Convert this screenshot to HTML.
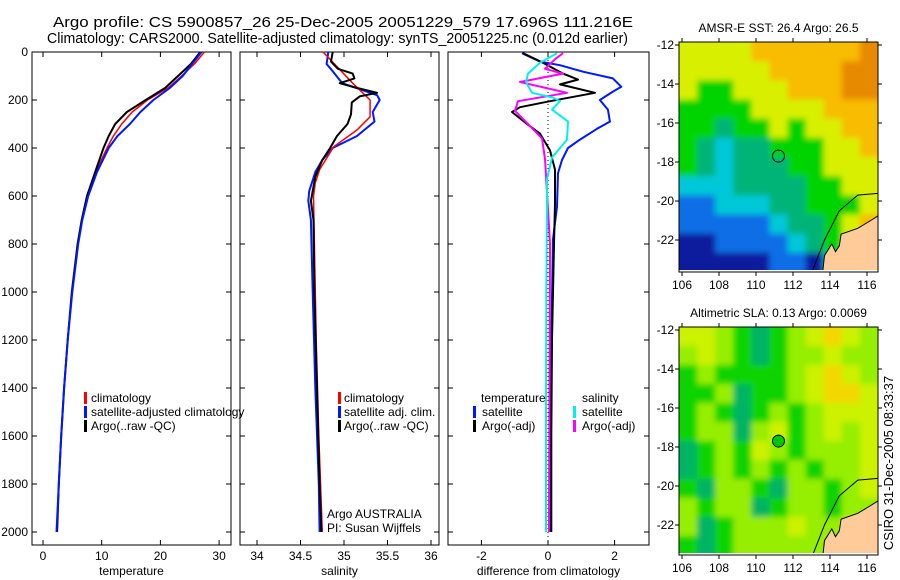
<!DOCTYPE html>
<html><head><meta charset="utf-8"><style>
html,body{margin:0;padding:0;background:#fff;}
svg{display:block;font-family:"Liberation Sans",sans-serif;}
text{fill:#000;}
</style></head><body>
<svg id="fig" width="900" height="580" viewBox="0 0 900 580" xmlns="http://www.w3.org/2000/svg">
<defs>
<filter id="blur" filterUnits="userSpaceOnUse" x="650" y="0" width="250" height="580"><feGaussianBlur stdDeviation="3"/></filter>
<clipPath id="clip1"><rect x="679" y="42" width="199" height="230"/></clipPath>
<clipPath id="clip2"><rect x="679" y="327" width="199" height="228"/></clipPath>
</defs>
<text x="53" y="27" font-size="15" textLength="580" lengthAdjust="spacingAndGlyphs">Argo profile: CS 5900857_26 25-Dec-2005 20051229_579 17.696S 111.216E</text>
<text x="47" y="43" font-size="15" textLength="581" lengthAdjust="spacingAndGlyphs">Climatology: CARS2000. Satellite-adjusted climatology: synTS_20051225.nc (0.012d earlier)</text>
<text transform="translate(893,463) rotate(-90)" font-size="13" text-anchor="middle">CSIRO 31-Dec-2005 08:33:37</text>
<g id="layer"></g>
</svg>
<script>
// ---------- data ----------
const depthTicks = [0,200,400,600,800,1000,1200,1400,1600,1800,2000];
const tempTicks = [0,10,20,30];
const salTicks = [34,34.5,35,35.5,36];
const diffTicks = [-2,0,2];
const lonTicks = [106,108,110,112,114,116];
const latTicks = [-12,-14,-16,-18,-20,-22];

const tDepth = [0,50,100,150,200,250,300,350,400,500,600,700,800,1000,1200,1400,1600,1800,2000];
const tempClim = [27.5,25.8,23.6,21.3,17.8,15.2,13.4,12.0,10.9,9.0,7.6,6.6,5.9,4.9,4.2,3.6,3.1,2.7,2.4];
const tempSat  = [27.0,25.4,23.8,21.6,18.8,16.6,14.8,12.7,11.2,9.2,7.7,6.7,6.0,5.0,4.2,3.6,3.1,2.7,2.3];
const tempArgo = [26.8,25.2,23.0,20.8,17.5,14.3,12.3,11.2,10.3,8.9,7.5,6.6,5.9,4.9,4.2,3.6,3.1,2.7,2.4];

const sClimDepth = [0,130,200,270,325,395,490,545,600,800,1200,1600,2000];
const salClim    = [34.76,35.1,35.3,35.3,35.15,34.88,34.72,34.67,34.65,34.66,34.68,34.71,34.75];
const sSatDepth  = [0,50,80,130,180,200,250,290,350,400,450,500,580,620,700,1000,1400,1800,2000];
const salSat     = [34.82,34.8,34.87,34.98,35.38,35.41,35.33,35.35,35.15,34.87,34.75,34.67,34.6,34.59,34.62,34.64,34.67,34.71,34.72];
const sArgoDepth = [0,40,70,90,110,130,145,170,185,210,260,300,350,400,450,520,620,700,1000,1400,1800,2000];
const salArgo    = [34.87,34.85,34.93,35.1,35.12,34.95,35.1,35.38,35.18,35.09,35.08,35.04,34.92,34.84,34.75,34.67,34.62,34.65,34.66,34.69,34.72,34.74];

const dTSatDepth = [5,40,55,82,110,145,165,200,240,290,320,365,400,450,505,645,780,1200,1600,2000];
const diffTSat   = [-0.78,-0.24,0.36,1.05,1.95,2.2,1.95,1.56,1.8,1.86,1.47,0.96,0.6,0.42,0.3,0.27,0.15,0.1,0.07,0.05];
const dTArgoDepth = [5,45,90,115,135,170,205,230,250,300,340,410,490,630,800,1200,1600,2000];
const diffTArgo   = [-0.75,-0.15,0.45,0.9,0.36,1.41,0.06,-0.84,-1.08,-0.63,-0.24,0.06,0.21,0.21,0.18,0.12,0.1,0.1];
const dSSatDepth = [5,45,90,125,170,190,205,240,290,365,440,530,640,1000,1500,2000];
const diffSSat   = [0.27,-0.24,-0.6,-0.66,-0.48,0.15,0.36,0.12,0.6,0.57,0.12,-0.03,-0.03,-0.05,-0.06,-0.06];
const dSArgoDepth = [5,30,70,90,125,170,205,245,300,360,445,585,800,1200,1600,2000];
const diffSArgo   = [0.45,0.21,-0.09,0.45,-0.84,0.57,-0.9,-0.99,-0.6,-0.18,-0.09,-0.03,0.06,0.05,0.04,0.03];

// map colour grids (rows top->bottom, cols west->east)
const sstGrid = [
"YYYYOOOOOOD",
"YYYYYOOOODD",
"YGGYYYOOODD",
"GGGGYYYYOOO",
"GGTGGYGYYOO",
"GTCTTGGGYYO",
"GTCTTTGGYYY",
"CCCTTTTGGYY",
"BBCCCTTGGGY",
"BBBBBCTTGYO",
"NNBBBBCTGYO",
"NNNNNBBNCGO"];
const slaGrid = [
"YYLGTGLYOYL",
"LYLGTGLLYLL",
"GLGGGGLYOYL",
"GGLTGGLYOOY",
"GLGTGLGLYYY",
"GLLTLYGLYLY",
"TGLGYLGLLLY",
"TGLGLGLGLLY",
"GTLLGTLLGLY",
"LGLLTGLLGLL",
"LTGLLLYLLYY",
"GTGLLLLLLYY"];
const sstColors = {Y:"#d8f000",O:"#f8bc00",D:"#e88a00",G:"#00d400",T:"#00b478",C:"#00c8d8",B:"#0a6ee6",N:"#0a1e9c"};
const slaColors = {Y:"#ccf200",L:"#96ee00",G:"#10d400",T:"#00b464",O:"#f2d800"};
const coastLon = [113.6,113.7,114.1,114.3,114.5,114.6,115.5,116.2,116.7,116.7];
const coastLat = [-23.7,-22.8,-22.2,-22.6,-22.3,-21.7,-21.4,-21.0,-20.7,-23.7];
const shelfLon = [113.0,113.7,114.5,115.5,116.7];
const shelfLat = [-23.7,-22.0,-20.5,-19.7,-19.6];
const floatLon = 111.216, floatLat = -17.696;

// ---------- drawing ----------
const NS = "http://www.w3.org/2000/svg";
const layer = document.getElementById('layer');
function mk(tag, attrs, parent){
  const e = document.createElementNS(NS, tag);
  for (const k in attrs) e.setAttribute(k, attrs[k]);
  (parent||layer).appendChild(e);
  return e;
}
const P = {top:52, bottom:545};
const yScale = d => 52 + 0.24*d;

function panel(name, x0, x1, xs, ticks, fmt, label, showY){
  const g = mk('g', {});
  
  
  const fr = mk('rect', {x:x0, y:P.top, width:x1-x0, height:P.bottom-P.top, fill:'none', stroke:'#000', 'stroke-width':1}, g);
  
  
  depthTicks.forEach(d=>{
    const y = yScale(d);
    mk('line',{x1:x0,x2:x0+5,y1:y,y2:y,stroke:'#000'},g);
    mk('line',{x1:x1-5,x2:x1,y1:y,y2:y,stroke:'#000'},g);
    if (showY){
      const t = mk('text',{x:x0-4,y:y+4,'font-size':12,'text-anchor':'end'},g);
      
      
      t.textContent = d;
    }
  });
  ticks.forEach(v=>{
    const x = xs(v);
    mk('line',{x1:x,x2:x,y1:P.top,y2:P.top+5,stroke:'#000'},g);
    mk('line',{x1:x,x2:x,y1:P.bottom-5,y2:P.bottom,stroke:'#000'},g);
    const t = mk('text',{x:x,y:560,'font-size':12,'text-anchor':'middle'},g);
    
    
    t.textContent = fmt(v);
  });
  const at = mk('text',{x:(x0+x1)/2,y:575,'font-size':12,'text-anchor':'middle'},g);
  
  
  at.textContent = label;
  return g;
}
function line(g, name, xs, depths, vals, color, w){
  const pts = depths.map((d,i)=> xs(vals[i]).toFixed(1)+','+yScale(d).toFixed(1)).join(' ');
  const p = mk('polyline',{points:pts,fill:'none',stroke:color,'stroke-width':w,'stroke-linejoin':'round'},g);
  
  
}
function legend(g, x, y, color, text, tx){
  mk('rect',{x:x, y:y-6, width:3, height:12, fill:color}, g);
  if (text){
    const t = mk('text',{x:tx, y:y+4, 'font-size':12}, g);
    
    
    t.textContent = text;
  }
}

// Temperature
const xT = v => 43 + 5.87*v;
const g1 = panel('temperature-panel', 32, 231, xT, tempTicks, v=>v, 'temperature', true);
line(g1,'temp-climatology-line',xT,tDepth,tempClim,'#ff0000',1.5);
line(g1,'temp-argo-line',xT,tDepth,tempArgo,'#000',2);
line(g1,'temp-satellite-line',xT,tDepth,tempSat,'#0018ff',2);
legend(g1,84,398,'#ff0000','climatology',91);
legend(g1,84,412,'#0018ff','satellite-adjusted climatology',91);
legend(g1,84,426,'#000','Argo(..raw -QC)',91);

// Salinity
const xS = v => 257 + 87*(v-34);
const g2 = panel('salinity-panel', 240, 439, xS, salTicks, v=>v, 'salinity', false);
line(g2,'sal-satellite-line',xS,sSatDepth,salSat,'#0018ff',2);
line(g2,'sal-climatology-line',xS,sClimDepth,salClim,'#ff0000',1.5);
line(g2,'sal-argo-line',xS,sArgoDepth,salArgo,'#000',2);
legend(g2,338,398,'#ff0000','climatology',344);
legend(g2,338,412,'#0018ff','satellite adj. clim.',344);
legend(g2,338,426,'#000','Argo(..raw -QC)',344);
let t1 = mk('text',{x:327,y:518,'font-size':12},g2); t1.textContent='Argo AUSTRALIA';
 
let t2 = mk('text',{x:327,y:532,'font-size':12},g2); t2.textContent='PI: Susan Wijffels';
 

// Difference
const xD = v => 548 + 33.3*v;
const g3 = panel('difference-panel', 448, 649, xD, diffTicks, v=>v, 'difference from climatology', false);
mk('line',{x1:xD(0),x2:xD(0),y1:P.top,y2:P.bottom,stroke:'#000','stroke-dasharray':'1,3'},g3);
line(g3,'diff-temp-satellite-line',xD,dTSatDepth,diffTSat,'#0018ff',2);
line(g3,'diff-temp-argo-line',xD,dTArgoDepth,diffTArgo,'#000',2);
line(g3,'diff-sal-argo-line',xD,dSArgoDepth,diffSArgo,'#ff00ff',2);
line(g3,'diff-sal-satellite-line',xD,dSSatDepth,diffSSat,'#00f0f0',2);
let lt = mk('text',{x:481,y:402,'font-size':12},g3); lt.textContent='temperature';
 
let ls = mk('text',{x:582,y:402,'font-size':12},g3); ls.textContent='salinity';
 
legend(g3,473,412,'#0018ff','satellite',482);
legend(g3,473,426,'#000','Argo(-adj)',482);
legend(g3,573,412,'#00f0f0','satellite',582);
legend(g3,573,426,'#ff00ff','Argo(-adj)',582);

// Maps
function drawMap(name, top, bottom, grid, colors, titleText, filled, clipId){
  const L=679, R=878;
  const lonX = lon => 682 + 18.5*(lon-106);
  const lat0 = -12, yPer = 19.5;
  const latY = lat => top + 3 + (lat0-lat)*yPer;
  const g = mk('g',{});
  
  
  const cg = mk('g',{'clip-path':'url(#'+clipId+')'},g);
  const ig = mk('g',{filter:'url(#blur)'},cg);
  const rows = grid.length, cols = grid[0].length;
  const cw = (R-L)/cols, ch = (bottom-top)/rows;
  for (let r=0;r<rows;r++) for (let c=0;c<cols;c++){
    let x = L + c*cw, y = top + r*ch, w = cw+0.5, h = ch+0.5;
    if (c===0){x-=12;w+=12;} if (c===cols-1){w+=12;}
    if (r===0){y-=12;h+=12;} if (r===rows-1){h+=12;}
    const cell = mk('rect',{x:x,y:y,width:w,height:h,fill:colors[grid[r][c]]},ig);
    
    
  }
  const landPts = coastLon.map((lo,i)=>lonX(lo).toFixed(1)+','+latY(coastLat[i]).toFixed(1)).join(' ');
  const land = mk('polygon',{points:landPts,fill:'#ffcc99',stroke:'#000','stroke-width':1},cg);
   
  const shelfPts = shelfLon.map((lo,i)=>lonX(lo).toFixed(1)+','+latY(shelfLat[i]).toFixed(1)).join(' ');
  const shelf = mk('polyline',{points:shelfPts,fill:'none',stroke:'#000','stroke-width':1},cg);
   
  mk('rect',{x:L,y:bottom-2,width:R-L,height:2,fill:'#fff'},cg);
  const fl = mk('circle',{cx:lonX(floatLon),cy:latY(floatLat),r:6,fill:filled?'#00c800':'none',stroke:'#000','stroke-width':1},g);
   
  const fr = mk('rect',{x:L,y:top,width:R-L,height:bottom-top,fill:'none',stroke:'#000'},g);
   
  lonTicks.forEach(lo=>{
    const x = lonX(lo);
    mk('line',{x1:x,x2:x,y1:bottom,y2:bottom+4,stroke:'#000'},g);
    mk('line',{x1:x,x2:x,y1:top-4,y2:top,stroke:'#000'},g);
    const t = mk('text',{x:x,y:bottom+17,'font-size':12,'text-anchor':'middle'},g);
     
    t.textContent = lo;
  });
  latTicks.forEach(la=>{
    const y = latY(la);
    mk('line',{x1:L-4,x2:L,y1:y,y2:y,stroke:'#000'},g);
    mk('line',{x1:R,x2:R+4,y1:y,y2:y,stroke:'#000'},g);
    const t = mk('text',{x:L-5,y:y+4,'font-size':12,'text-anchor':'end'},g);
     
    t.textContent = la;
  });
  const tt = mk('text',{x:(L+R)/2,y:top-10,'font-size':12,'text-anchor':'middle'},g);
   
  tt.textContent = titleText;
}
drawMap('sst-map',42,272,sstGrid,sstColors,'AMSR-E SST: 26.4 Argo: 26.5',false,'clip1');
drawMap('sla-map',327,555,slaGrid,slaColors,'Altimetric SLA: 0.13 Argo: 0.0069',true,'clip2');
</script>
</body></html>
